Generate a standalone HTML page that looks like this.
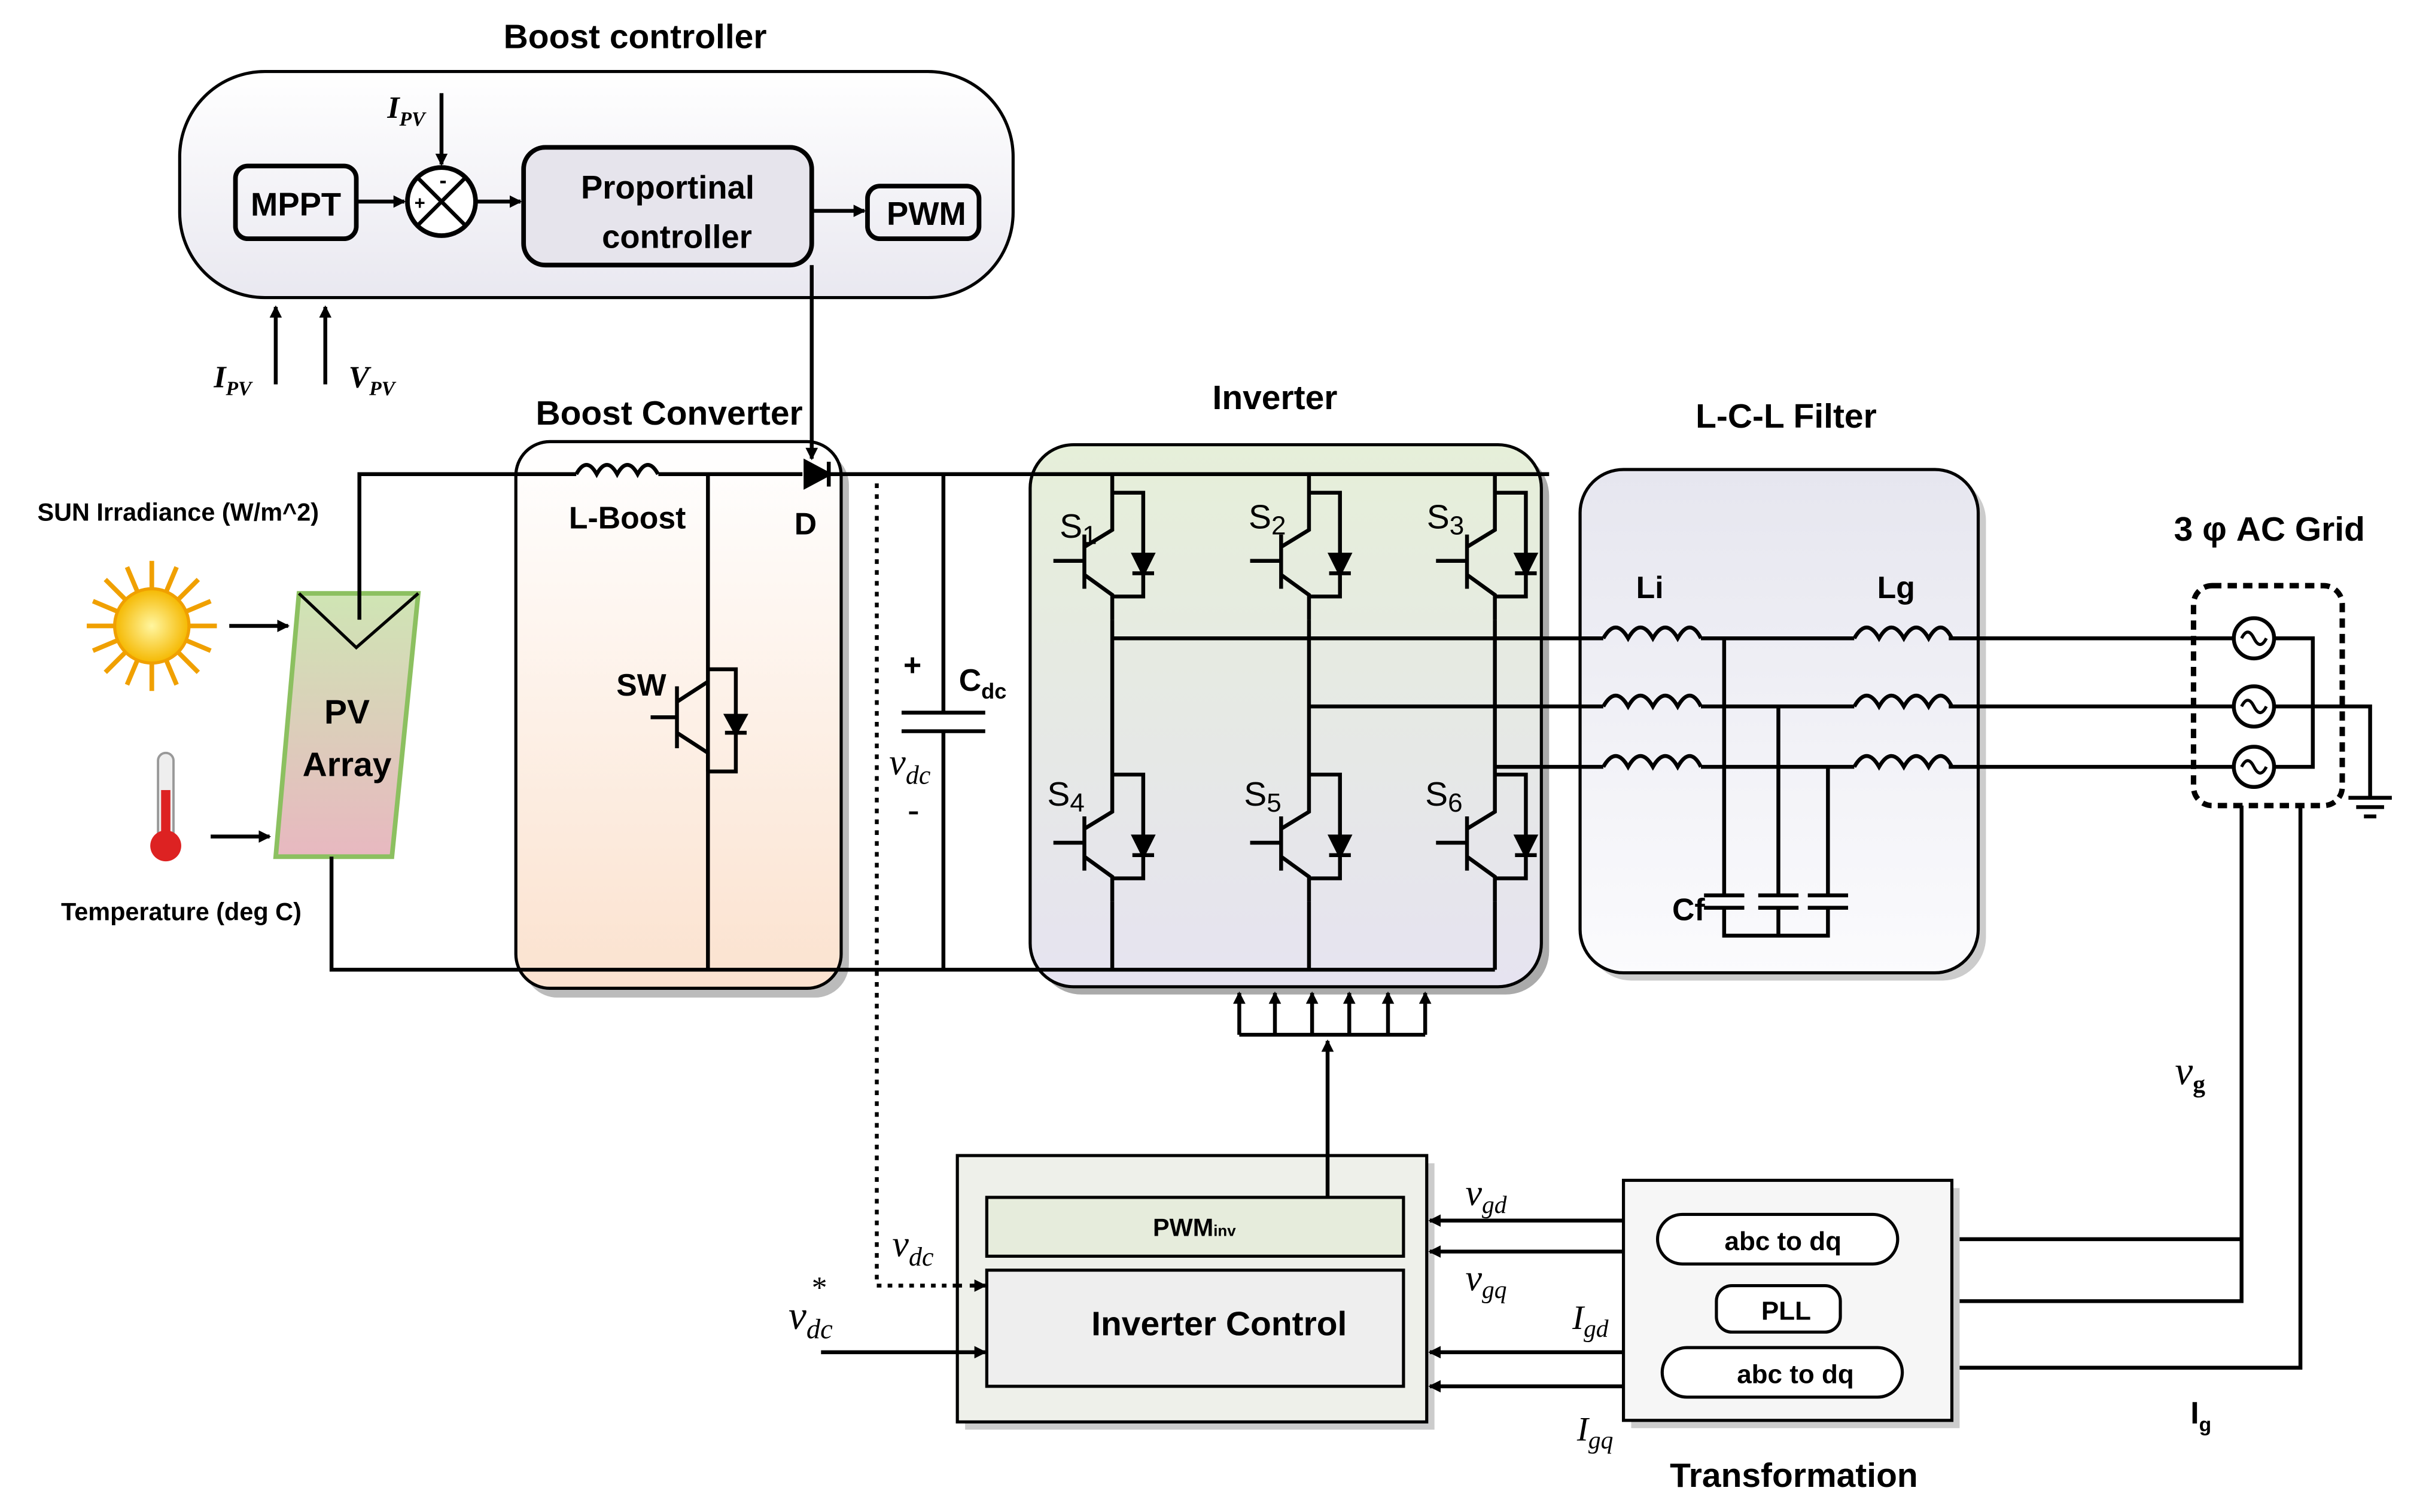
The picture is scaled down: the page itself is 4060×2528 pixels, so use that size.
<!DOCTYPE html>
<html><head><meta charset="utf-8"><style>html,body{margin:0;padding:0;background:#fff}svg{display:block}</style></head><body>
<svg width="4060" height="2528" viewBox="0 0 1568 976" xmlns="http://www.w3.org/2000/svg" font-family="Liberation Sans, sans-serif">
<defs>
<marker id="a" markerWidth="8" markerHeight="8" refX="7" refY="4" orient="auto" markerUnits="userSpaceOnUse"><path d="M0,0 L8,4 L0,8 z" fill="#000" stroke="none"/></marker>
<linearGradient id="bc" x1="0" y1="0" x2="0" y2="1"><stop offset="0" stop-color="#fff"/><stop offset="1" stop-color="#fbe2cf"/></linearGradient>
<linearGradient id="inv" x1="0" y1="0" x2="0" y2="1"><stop offset="0" stop-color="#e6efd9"/><stop offset="1" stop-color="#e6e3f0"/></linearGradient>
<linearGradient id="lcl" x1="0" y1="0" x2="0" y2="1"><stop offset="0" stop-color="#e6e6ef"/><stop offset="1" stop-color="#fbfbfd"/></linearGradient>
<linearGradient id="ctl" x1="0" y1="0" x2="0" y2="1"><stop offset="0" stop-color="#fff"/><stop offset="1" stop-color="#e9e8f0"/></linearGradient>
<linearGradient id="pv" x1="0" y1="0" x2="0" y2="1"><stop offset="0" stop-color="#cfe5b4"/><stop offset="1" stop-color="#e8b8c0"/></linearGradient>
<radialGradient id="sun"><stop offset="0" stop-color="#fff6a0"/><stop offset="1" stop-color="#f5b800"/></radialGradient>
</defs>
<g stroke="#000" fill="none" stroke-width="2.5">
<rect x="116" y="46" width="538" height="146" rx="55" fill="url(#ctl)" stroke-width="2"/>
<rect x="152" y="107" width="78" height="47" rx="8" stroke-width="3"/>
<circle cx="285" cy="130" r="22" fill="#fff" stroke-width="3"/>
<path d="M270,115 L300,145 M300,115 L270,145" stroke-width="2.5"/>
<rect x="338" y="95" width="186" height="76" rx="14" fill="#e6e4ec" stroke-width="3"/>
<rect x="560" y="120" width="72" height="34" rx="8" stroke-width="3"/>
<path d="M230,130 L261,130" marker-end="url(#a)"/>
<path d="M307,130 L336,130" marker-end="url(#a)"/>
<path d="M524,136 L558,136" marker-end="url(#a)"/>
<path d="M285,60 L285,106" marker-end="url(#a)"/>
<path d="M178,248 L178,198" marker-end="url(#a)"/>
<path d="M210,248 L210,198" marker-end="url(#a)"/>
<rect x="338" y="291" width="210" height="353" rx="22" fill="#bbb" stroke="none"/>
<rect x="333" y="285" width="210" height="353" rx="22" fill="url(#bc)" stroke-width="2"/>
<rect x="670" y="292" width="330" height="350" rx="28" fill="#aaa" stroke="none"/>
<rect x="665" y="287" width="330" height="350" rx="28" fill="url(#inv)" stroke-width="2"/>
<rect x="1025" y="308" width="257" height="325" rx="28" fill="#ccc" stroke="none"/>
<rect x="1020" y="303" width="257" height="325" rx="28" fill="url(#lcl)" stroke-width="2"/>
<path d="M524,171 L524,296" marker-end="url(#a)"/>
<path d="M193,383 L270,383 L253,553 L178,553 Z" fill="url(#pv)" stroke="#8cc060" stroke-width="3"/>
<path d="M193,383 L230,418 L270,383" stroke="#000" stroke-width="2"/>
<path d="M232,400 L232,306 L372,306 M425,306 L518,306 M535,306 L1000,306"/>
<path d="M214,553 L214,626 L965,626"/>
<path d="M372,306 q6.6,-12 13.2,0 q6.6,-12 13.2,0 q6.6,-12 13.2,0 q6.6,-12 13.2,0"/>
<path d="M520,298 L520,314 L535,306 Z" fill="#000"/><path d="M535,298 L535,314"/>
<path d="M457,306 L457,626"/>
<path d="M437,443 L437,483 M420,463 L437,463 M437,453 L457,440 M437,473 L457,486 L457,498"/>
<path d="M457,432 L475,432 L475,498 L457,498"/><path d="M468,473 L482,473 M469,462 L481,462 L475,473 Z" fill="#000"/>
<path d="M609,306 L609,460 M582,460 L636,460 M582,472 L636,472 M609,472 L609,626"/>
<path d="M566,312 L566,830 L628,830" stroke-dasharray="3,4"/>
<g id="leg">
<path d="M718,306 L718,340 M700,345 L700,380 M680,362 L700,362 M700,353 L718,342 L718,340 M700,371 L718,384 L718,400 M718,318 L738,318 L738,385 L718,385"/>
<path d="M731,370 L745,370 M732,358 L744,358 L738,370 Z" fill="#000"/>
</g>
<use href="#leg" x="127"/><use href="#leg" x="247"/>
<use href="#leg" y="182"/><use href="#leg" x="127" y="182"/><use href="#leg" x="247" y="182"/>
<path d="M718,400 L718,488 M845,400 L845,488 M965,400 L965,488 M718,582 L718,626 M845,582 L845,626 M965,582 L965,626"/>
<path d="M718,412 L1035,412 M1098,412 L1197,412 M1258,412 L1442,412"/>
<path d="M845,456 L1035,456 M1098,456 L1197,456 M1258,456 L1442,456"/>
<path d="M965,495 L1035,495 M1098,495 L1197,495 M1258,495 L1442,495"/>
<g id="ind"><path d="M1035,412 q8,-14 16,0 q8,-14 16,0 q8,-14 16,0 q8,-14 15,0"/></g>
<use href="#ind" y="44"/><use href="#ind" y="83"/>
<use href="#ind" x="162"/><use href="#ind" x="162" y="44"/><use href="#ind" x="162" y="83"/>
<path d="M1113,412 L1113,578 M1148,456 L1148,578 M1180,495 L1180,578"/>
<path d="M1100,578 L1126,578 M1100,586 L1126,586 M1135,578 L1161,578 M1135,586 L1161,586 M1167,578 L1193,578 M1167,586 L1193,586"/>
<path d="M1113,586 L1113,604 L1180,604 L1180,586 M1148,586 L1148,604"/>
<rect x="1416" y="378" width="96" height="142" rx="12" stroke-dasharray="6,4" stroke-width="3.5"/>
<circle cx="1455" cy="412" r="13" fill="#fff"/><circle cx="1455" cy="456" r="13" fill="#fff"/><circle cx="1455" cy="495" r="13" fill="#fff"/>
<path d="M1447,412 q4,-8 8,0 q4,8 8,0 M1447,456 q4,-8 8,0 q4,8 8,0 M1447,495 q4,-8 8,0 q4,8 8,0" stroke-width="2"/>
<path d="M1468,412 L1493,412 L1493,495 L1468,495 M1468,456 L1530,456 L1530,515 M1516,515 L1544,515 M1521,521 L1539,521 M1526,527 L1534,527"/>
<path d="M1447,520 L1447,840 L1262,840 M1447,800 L1262,800 M1485,520 L1485,883 L1262,883"/>
<rect x="623" y="751" width="303" height="172" fill="#ccc" stroke="none"/>
<rect x="618" y="746" width="303" height="172" fill="#eef0ea" stroke-width="2"/>
<rect x="637" y="773" width="269" height="38" fill="#e6ecdc" stroke-width="2"/>
<rect x="637" y="820" width="269" height="75" fill="#eeeeee" stroke-width="2"/>
<path d="M618,830 L624,830" stroke-dasharray="3,3"/>
<path d="M626,830 L636,830" marker-end="url(#a)"/>
<path d="M857,773 L857,672" marker-end="url(#a)"/>
<path d="M800,668 L920,668"/>
<path d="M800,668 L800,641" marker-end="url(#a)"/>
<path d="M823,668 L823,641" marker-end="url(#a)"/>
<path d="M847,668 L847,641" marker-end="url(#a)"/>
<path d="M871,668 L871,641" marker-end="url(#a)"/>
<path d="M896,668 L896,641" marker-end="url(#a)"/>
<path d="M920,668 L920,641" marker-end="url(#a)"/>
<path d="M1047,788 L923,788" marker-end="url(#a)"/>
<path d="M1047,808 L923,808" marker-end="url(#a)"/>
<path d="M1047,873 L923,873" marker-end="url(#a)"/>
<path d="M1047,895 L923,895" marker-end="url(#a)"/>
<path d="M530,873 L636,873" marker-end="url(#a)"/>
<rect x="1053" y="767" width="212" height="155" fill="#ccc" stroke="none"/>
<rect x="1048" y="762" width="212" height="155" fill="#f6f6f6" stroke-width="2"/>
<rect x="1070" y="784" width="155" height="32" rx="16" fill="#fff" stroke-width="2"/>
<rect x="1108" y="830" width="80" height="30" rx="10" fill="#fff" stroke-width="2"/>
<rect x="1073" y="870" width="155" height="32" rx="16" fill="#fff" stroke-width="2"/>
<g stroke="#f0a000" stroke-width="3">
<path d="M98,362 L98,446 M56,404 L140,404 M68,374 L128,434 M128,374 L68,434 M82,366 L114,442 M114,366 L82,442 M60,388 L136,420 M136,388 L60,420"/>
</g>
<circle cx="98" cy="404" r="24" fill="url(#sun)" stroke="#f0a000" stroke-width="2"/>
<path d="M148,404 L186,404" marker-end="url(#a)"/>
<path d="M136,540 L174,540" marker-end="url(#a)"/>
<rect x="102" y="486" width="10" height="56" rx="5" fill="#eee" stroke="#999" stroke-width="1.5"/>
<rect x="104" y="510" width="6" height="36" fill="#d22" stroke="none"/>
<circle cx="107" cy="546" r="10" fill="#d22" stroke="none"/>
</g>
<g font-weight="bold" fill="#000" font-size="21">
<text x="271" y="135" text-anchor="middle" font-size="12">+</text>
<text x="286" y="121" text-anchor="middle" font-size="14">-</text>
<text x="410" y="31" text-anchor="middle" font-size="22">Boost controller</text>
<text x="191" y="139" text-anchor="middle">MPPT</text>
<text x="431" y="128" text-anchor="middle">Proportinal</text>
<text x="437" y="160" text-anchor="middle">controller</text>
<text x="598" y="145" text-anchor="middle">PWM</text>
<text x="432" y="274" text-anchor="middle" font-size="22">Boost Converter</text>
<text x="823" y="264" text-anchor="middle" font-size="22">Inverter</text>
<text x="1153" y="276" text-anchor="middle" font-size="22">L-C-L Filter</text>
<text x="1465" y="349" text-anchor="middle" font-size="22">3 φ AC Grid</text>
<text x="405" y="341" text-anchor="middle" font-size="20">L-Boost</text>
<text x="520" y="345" text-anchor="middle" font-size="20">D</text>
<text x="414" y="449" text-anchor="middle" font-size="20">SW</text>
<text x="224" y="467" text-anchor="middle" font-size="22">PV</text>
<text x="224" y="501" text-anchor="middle" font-size="22">Array</text>
<text x="115" y="336" text-anchor="middle" font-size="16">SUN Irradiance (W/m^2)</text>
<text x="117" y="594" text-anchor="middle" font-size="16">Temperature (deg C)</text>
<text x="589" y="436" text-anchor="middle" font-size="20">+</text>
<text x="619" y="446" font-size="20">C<tspan font-size="14" dy="5">dc</tspan></text>
<text x="1065" y="386" text-anchor="middle" font-size="20">Li</text>
<text x="1224" y="386" text-anchor="middle" font-size="20">Lg</text>
<text x="1090" y="594" text-anchor="middle" font-size="20">Cf</text>
<text x="787" y="862" text-anchor="middle" font-size="22">Inverter Control</text>
<text x="771" y="798" text-anchor="middle" font-size="16">PWM<tspan font-size="10">inv</tspan></text>
<text x="1151" y="807" text-anchor="middle" font-size="17">abc to dq</text>
<text x="1153" y="852" text-anchor="middle" font-size="17">PLL</text>
<text x="1159" y="893" text-anchor="middle" font-size="17">abc to dq</text>
<text x="1158" y="960" text-anchor="middle" font-size="22">Transformation</text>
<text x="1414" y="919" font-size="20">I<tspan font-size="13" dy="5">g</tspan></text>
</g>
<g font-family="Liberation Serif, serif" font-style="italic" fill="#000" font-size="22">
<g font-weight="bold"><text x="250" y="76" font-size="20">I<tspan font-size="13" dy="5">PV</tspan></text>
<text x="138" y="250" font-size="20">I<tspan font-size="13" dy="5">PV</tspan></text>
<text x="225" y="250" font-size="20">V<tspan font-size="13" dy="5">PV</tspan></text></g>
<text x="684" y="347" font-style="normal" font-family="Liberation Sans, sans-serif">S<tspan font-size="17" dy="4">1</tspan></text>
<text x="806" y="341" font-style="normal" font-family="Liberation Sans, sans-serif">S<tspan font-size="17" dy="4">2</tspan></text>
<text x="921" y="341" font-style="normal" font-family="Liberation Sans, sans-serif">S<tspan font-size="17" dy="4">3</tspan></text>
<text x="676" y="520" font-style="normal" font-family="Liberation Sans, sans-serif">S<tspan font-size="17" dy="4">4</tspan></text>
<text x="803" y="520" font-style="normal" font-family="Liberation Sans, sans-serif">S<tspan font-size="17" dy="4">5</tspan></text>
<text x="920" y="520" font-style="normal" font-family="Liberation Sans, sans-serif">S<tspan font-size="17" dy="4">6</tspan></text>
<text x="574" y="500" font-size="24">v<tspan font-size="17" dy="6">dc</tspan></text>
<text x="586" y="530" font-style="normal" font-weight="bold">-</text>
<text x="576" y="811" font-size="24">v<tspan font-size="17" dy="6">dc</tspan></text>
<text x="509" y="858" font-size="26">v<tspan font-size="18" dy="6">dc</tspan></text>
<text x="523" y="838" font-size="20">*</text>
<text x="946" y="778" font-size="24">v<tspan font-size="16" dy="5">gd</tspan></text>
<text x="946" y="833" font-size="24">v<tspan font-size="16" dy="5">gq</tspan></text>
<text x="1015" y="858" font-size="22">I<tspan font-size="16" dy="5">gd</tspan></text>
<text x="1018" y="930" font-size="22">I<tspan font-size="16" dy="5">gq</tspan></text>
<text x="1404" y="700" font-size="26">v<tspan font-size="16" dy="5" font-style="normal" font-weight="bold">g</tspan></text>
</g>
</svg>
</body></html>
